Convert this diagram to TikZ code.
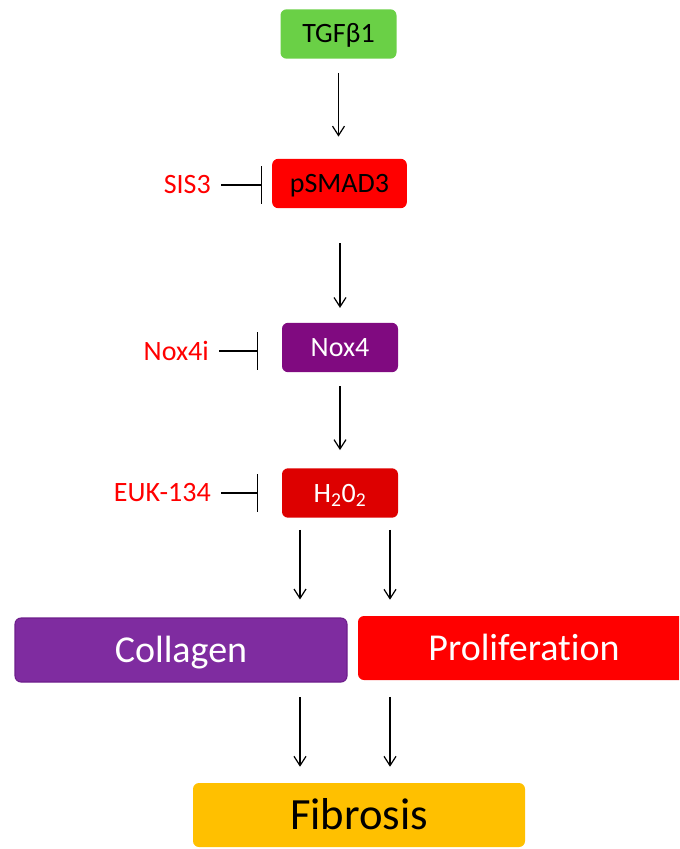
\documentclass[tikz,border=0pt]{standalone}
\usepackage{fontspec}
\setmainfont{Carlito}[RawFeature={-liga}]
\usetikzlibrary{arrows.meta, positioning}

\definecolor{tgfgreen}{RGB}{106,208,70}
\definecolor{noxpurple}{RGB}{128,10,128}
\definecolor{hred}{RGB}{221,0,0}
\definecolor{colpurple}{RGB}{127,44,160}
\definecolor{colborder}{RGB}{110,30,140}
\definecolor{fibyellow}{RGB}{255,192,0}

\begin{document}
\begin{tikzpicture} [x=0.75pt, y=-0.75pt,
    box/.style={rounded corners=4.5pt, inner sep=0pt, text depth=0pt},
    small/.style={box, minimum width=87pt, minimum height=37pt, text height=13.5pt, font=\fontsize{21}{25}\selectfont},
    big/.style={box, minimum width=249pt, minimum height=48pt, text height=18.4pt, font=\fontsize{28.5}{34}\selectfont, text=white},
    drug/.style={anchor=east, inner sep=0pt, text=red, font=\fontsize{21}{25}\selectfont},
    flow/.style={-{Straight Barb[length=7pt, width=9pt]}, line width=0.9pt},
    inhib/.style={-{Bar[width=28pt]}, line width=0.9pt, shorten <=7.5pt}]

   \useasboundingbox (0,0) rectangle (679,849);
   \clip (0,0) rectangle (679,849);

   % main chain
   \node[small, fill=tgfgreen] (tgf) at (338.5,34) {TGFβ1};
   \node[small, fill=red, minimum width=101pt] (psmad) at (339.5,183.5) {pSMAD3};
   \node[small, fill=noxpurple, text=white] (nox) at (340,347.5) {Nox4};
   \node[small, fill=hred, text=white] (h2o2) at (340,493) {H\textsubscript{2}0\textsubscript{2}};
   \node[big, fill=colpurple, draw=colborder, line width=0.8pt] (coll) at (181,650) {Collagen};
   \node[big, fill=red] (prol) at (524,648) {Proliferation};
   \node[big, fill=fibyellow, text=black, text height=21.6pt, font=\fontsize{33.5}{40}\selectfont] (fib) at (359,815) {Fibrosis};

   % inhibitors
   \node[drug] (sis) at (211,185) {SIS3};
   \node[drug] (noxi) at (209,351) {Nox4i};
   \node[drug] (euk) at (211,493) {EUK-134};

   \coordinate (lft) at (300,0);
   \coordinate (rgt) at (390,0);

   \draw[flow, shorten <=10.5pt, shorten >=16.5pt] (tgf) -- (tgf |- psmad.north);
   \draw[flow, shorten <=26pt, shorten >=11pt] (psmad.south -| nox) -- (nox.north);
   \draw[flow, shorten <=10.5pt, shorten >=13.5pt] (nox) -- (h2o2);
   \draw[flow, shorten <=9pt, shorten >=13.5pt] (h2o2.south -| lft) -- (coll.north -| lft);
   \draw[flow, shorten <=9pt, shorten >=12pt] (h2o2.south -| rgt) -- (prol.north -| rgt);
   \draw[flow, shorten <=11pt, shorten >=12pt] (coll.south -| lft) -- (fib.north -| lft);
   \draw[flow, shorten <=12.5pt, shorten >=12pt] (prol.south -| rgt) -- (fib.north -| rgt);

   \draw[inhib, shorten >=7.5pt] (sis.east) -- (sis.east -| psmad.west);
   \draw[inhib, shorten >=18pt] (noxi.east) -- (noxi.east -| nox.west);
   \draw[inhib, shorten >=18pt] (euk.east) -- (euk.east -| h2o2.west);

\end{tikzpicture}
\end{document}
